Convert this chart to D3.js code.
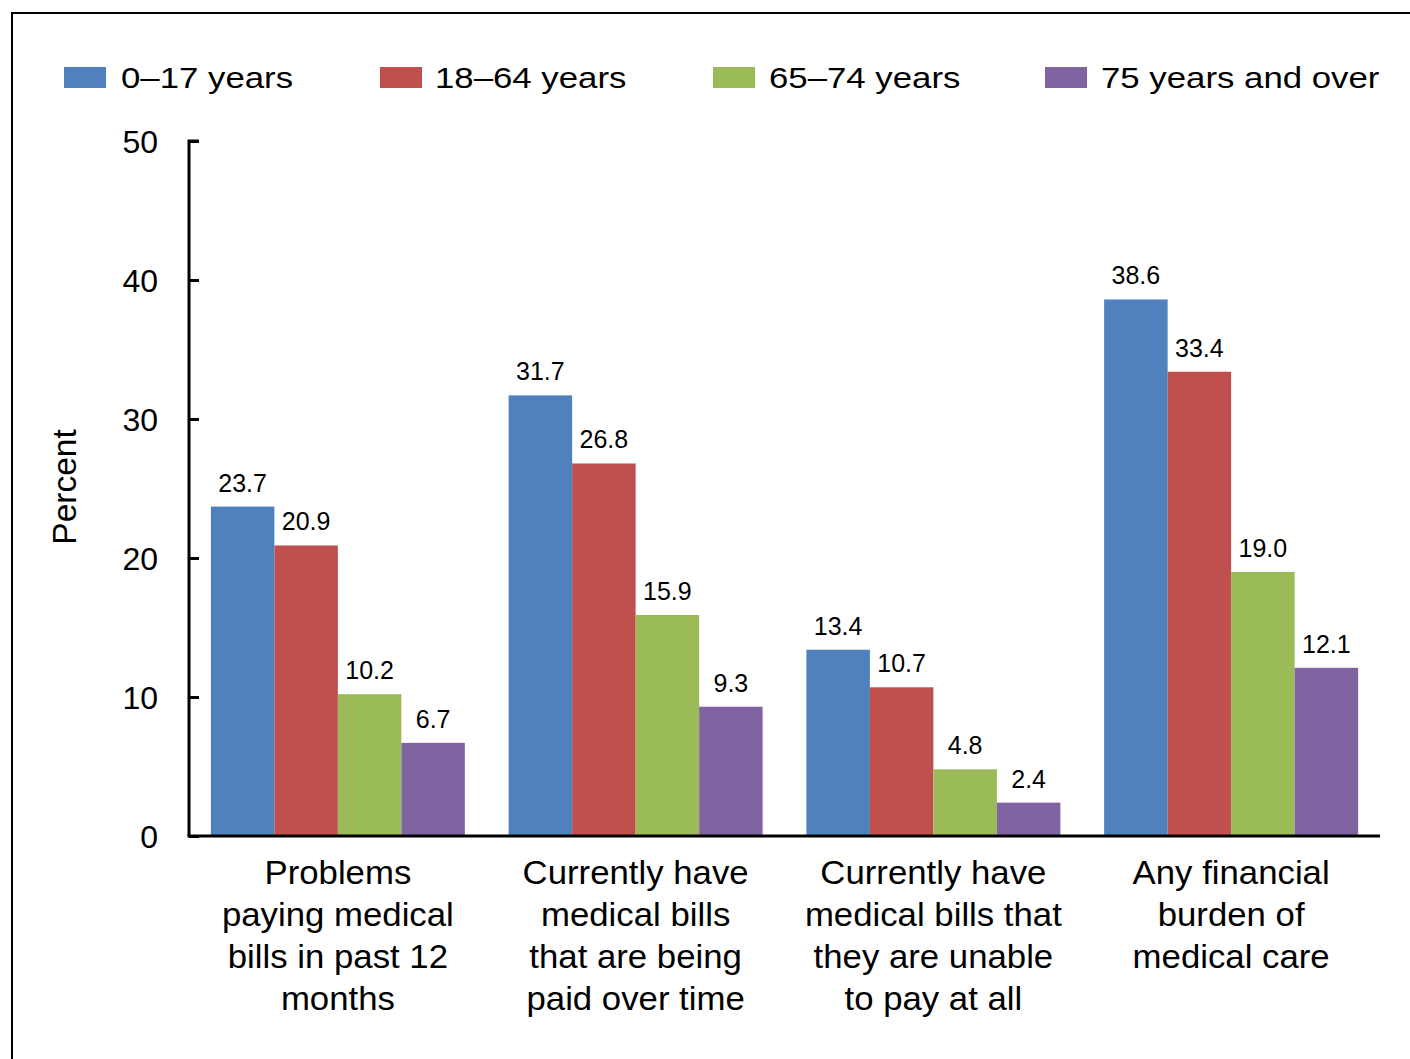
<!DOCTYPE html>
<html>
<head>
<meta charset="utf-8">
<script src="https://cdn.jsdelivr.net/npm/d3@7"></script>
<style>
  body { margin: 0; background: #fff; }
  text { font-family: "Liberation Sans", Arial, sans-serif; fill: #000; }
</style>
</head>
<body>
<div id="chart"></div>
<script>
const categories = [
  ["Problems", "paying medical", "bills in past 12", "months"],
  ["Currently have", "medical bills", "that are being", "paid over time"],
  ["Currently have", "medical bills that", "they are unable", "to pay at all"],
  ["Any financial", "burden of", "medical care"]
];
const seriesNames = ["0\u201317 years", "18\u201364 years", "65\u201374 years", "75 years and over"];
const seriesColors = ["#4F81BD", "#C0504D", "#9BBB59", "#8064A2"];
const age0to17 = [23.7, 31.7, 13.4, 38.6];
const age18to64 = [20.9, 26.8, 10.7, 33.4];
const age65to74 = [10.2, 15.9, 4.8, 19.0];
const age75plus = [6.7, 9.3, 2.4, 12.1];
const yTicks = [0, 10, 20, 30, 40, 50];

const series = [age0to17, age18to64, age65to74, age75plus];
const width = 1410, height = 1059;
const plotLeft = 189, plotRight = 1380, plotTop = 141, plotBottom = 836;

const svg = d3.select("#chart").append("svg")
  .attr("width", width)
  .attr("height", height);

// outer frame
svg.append("rect")
  .attr("x", 12).attr("y", 13)
  .attr("width", 1420).attr("height", 1100)
  .attr("fill", "none").attr("stroke", "#000").attr("stroke-width", 2);

const x0 = d3.scaleBand().domain(d3.range(categories.length)).range([plotLeft, plotRight]).paddingInner(0.147).paddingOuter(0.0735);
const x1 = d3.scaleBand().domain(d3.range(series.length)).range([0, x0.bandwidth()]);
const y = d3.scaleLinear().domain([0, 50]).range([plotBottom, plotTop]);

// bars
series.forEach((vals, s) => {
  const g = svg.append("g");
  g.selectAll("rect").data(vals).enter().append("rect")
    .attr("x", (d, i) => x0(i) + x1(s))
    .attr("y", d => y(d))
    .attr("width", x1.bandwidth())
    .attr("height", d => y(0) - y(d))
    .attr("fill", seriesColors[s]);
  g.selectAll("text").data(vals).enter().append("text")
    .attr("x", (d, i) => x0(i) + x1(s) + x1.bandwidth() / 2)
    .attr("y", d => y(d) - 15)
    .attr("text-anchor", "middle")
    .attr("font-size", 25)
    .text(d => d.toFixed(1));
});

// y axis
const yAxis = svg.append("g").attr("transform", `translate(${plotLeft},0)`)
  .call(d3.axisRight(y).tickValues(yTicks).tickSize(10).tickFormat(""));
yAxis.select(".domain").attr("stroke", "#000").attr("stroke-width", 3)
  .attr("d", `M10,${plotTop}H0V${plotBottom}`);
yAxis.selectAll(".tick line").attr("stroke", "#000").attr("stroke-width", 3);

svg.selectAll(".ylab").data(yTicks).enter().append("text")
  .attr("x", 158)
  .attr("y", d => y(d) + 11.5)
  .attr("text-anchor", "end")
  .attr("font-size", 32)
  .text(d => d);

// x axis line
svg.append("line")
  .attr("x1", plotLeft - 1.5).attr("x2", plotRight)
  .attr("y1", plotBottom).attr("y2", plotBottom)
  .attr("stroke", "#000").attr("stroke-width", 3);

// category labels (slightly wide lettering, as in the original)
categories.forEach((lines, i) => {
  const t = svg.append("text")
    .attr("transform", `translate(${x0(i) + x0.bandwidth() / 2},884) scale(1.07,1)`)
    .attr("text-anchor", "middle")
    .attr("font-size", 32.5);
  lines.forEach((ln, k) => {
    t.append("tspan")
      .attr("x", 0)
      .attr("y", k * 42)
      .text(ln);
  });
});

// y title
svg.append("text")
  .attr("transform", "translate(76,487) rotate(-90)")
  .attr("text-anchor", "middle")
  .attr("font-size", 33.5)
  .text("Percent");

// legend
const swatchX = [64, 380, 713, 1045];
const labelX = [121, 435, 769, 1101];
seriesNames.forEach((name, s) => {
  svg.append("rect")
    .attr("x", swatchX[s]).attr("y", 67)
    .attr("width", 42).attr("height", 21)
    .attr("fill", seriesColors[s]);
  svg.append("text")
    .attr("transform", `translate(${labelX[s]},88) scale(1.16,1)`)
    .attr("font-size", 30)
    .text(name);
});
</script>
</body>
</html>
